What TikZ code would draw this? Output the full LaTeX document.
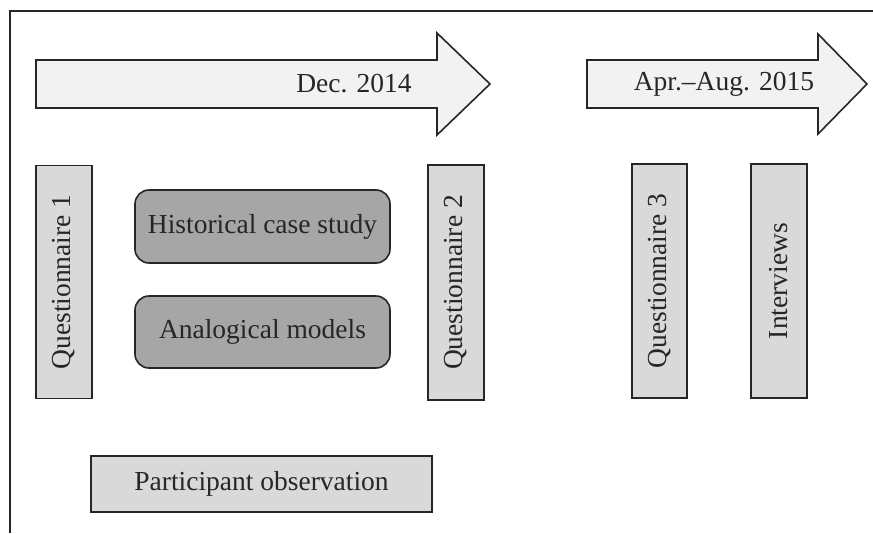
\documentclass[tikz,border=0pt]{standalone}
\usepackage{fontspec}
\setmainfont{Liberation Serif}
\begin{document}
\begin{tikzpicture}[x=1pt,y=-1pt,
  every node/.style={font=\fontsize{27.5}{33}\selectfont, text=black!85},
  outline/.style={draw=black!85, line width=1.6pt},
  period/.style={outline, fill=black!5, line join=miter},
  method/.style={outline, fill=black!15, rectangle, inner sep=0pt},
  activity/.style={outline, fill=black!35, rectangle, rounded corners=14pt, inner sep=0pt},
  label/.style={inner sep=0pt}]
\useasboundingbox (0,0) rectangle (873,533);
% open frame
\draw[line width=1.6pt, draw=black!85] (873,11) -- (10,11) -- (10,533);
% timeline arrows
\draw[period] (36,60) -- (437,60) -- (437,33) -- (490,84) -- (437,135) -- (437,108) -- (36,108) -- cycle;
\node[label] (dec) at (354,84) {Dec. 2014};
\draw[period] (587,60) -- (818,60) -- (818,34) -- (867,84) -- (818,134) -- (818,108) -- (587,108) -- cycle;
\node[label] (apr) at (724,84) {Apr.–Aug. 2015};
% questionnaires and interviews
\node[method, minimum width=56pt, minimum height=233pt] (q1) at (64,282) {};
\node[label, rotate=90] at (q1.center) {Questionnaire 1};
\node[method, minimum width=56pt, minimum height=235pt] (q2) at (456,282.5) {};
\node[label, rotate=90] at (q2.center) {Questionnaire 2};
\node[method, minimum width=55pt, minimum height=234pt] (q3) at (659.5,281) {};
\node[label, rotate=90] at (q3.center) {Questionnaire 3};
\node[method, minimum width=56pt, minimum height=234pt] (iv) at (779,281) {};
\node[label, rotate=90] at (iv.center) {Interviews};
% teaching activities
\node[activity, minimum width=255pt, minimum height=73pt] (hcs) at (262.5,226.5) {Historical case study};
\node[activity, minimum width=255pt, minimum height=72pt] (am) at (262.5,332) {Analogical models};
% observation
\node[method, minimum width=341pt, minimum height=56pt] (po) at (261.5,484) {Participant observation};
\end{tikzpicture}
\end{document}
